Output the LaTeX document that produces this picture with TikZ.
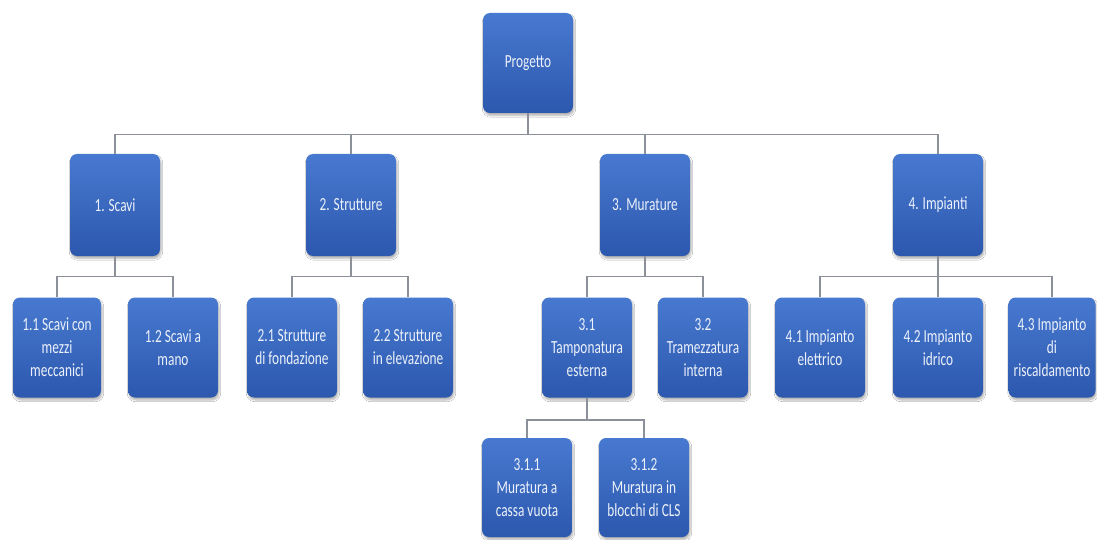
\documentclass[tikz,border=0pt]{standalone}
\usepackage{fontspec}
\newfontfamily\boxfont{Carlito}[FakeStretch=0.72]
\usetikzlibrary{shadows.blur}
\definecolor{boxtop}{RGB}{72,121,208}
\definecolor{boxbot}{RGB}{44,88,174}
\definecolor{boxtext}{RGB}{236,241,250}
\definecolor{connector}{RGB}{140,144,152}
\begin{document}
\begin{tikzpicture}[x=1pt,y=-1pt,
  wbs/.style={rectangle, rounded corners=7pt, top color=boxtop, bottom color=boxbot,
    draw=none, minimum width=90pt, minimum height=101pt, inner sep=0pt,
    align=center, text=boxtext, font=\boxfont\fontsize{18.5}{23}\selectfont,
    blur shadow={shadow blur steps=6, shadow xshift=1pt, shadow yshift=-2.5pt, shadow opacity=30}},
  conn/.style={draw=connector, line width=1.3pt}]
  \fill[white] (0,0) rectangle (1097,540);
  \useasboundingbox (0,0) rectangle (1097,540);

  % bus bars of the three tree levels
  \coordinate (bar1) at (0,134.5);
  \coordinate (bar2) at (0,276.5);
  \coordinate (bar3) at (0,420);

  % root
  \node[wbs, minimum height=100pt] (root) at (528,63) {Progetto};

  % first level
  \node[wbs, minimum height=102pt] (s1) at (115,205) {1. Scavi};
  \node[wbs, minimum height=102pt] (s2) at (351,205) {2. Strutture};
  \node[wbs, minimum height=102pt] (s3) at (645,205) {3. Murature};
  \node[wbs, minimum height=102pt] (s4) at (938,205) {4. Impianti};

  % second level
  \node[wbs, minimum width=88pt, minimum height=100pt] (s11) at (57,347.5) {1.1 Scavi con\\mezzi\\meccanici};
  \node[wbs, minimum height=100pt] (s12) at (173,347.5) {1.2 Scavi a\\mano};
  \node[wbs, minimum height=100pt] (s21) at (292,347.5) {2.1 Strutture\\di fondazione};
  \node[wbs, minimum height=100pt] (s22) at (408,347.5) {2.2 Strutture\\in elevazione};
  \node[wbs, minimum height=100pt] (s31) at (587,347.5) {3.1\\Tamponatura\\esterna};
  \node[wbs, minimum height=100pt] (s32) at (703,347.5) {3.2\\Tramezzatura\\interna};
  \node[wbs, minimum height=100pt] (s41) at (820,347.5) {4.1 Impianto\\elettrico};
  \node[wbs, minimum height=100pt] (s42) at (938,347.5) {4.2 Impianto\\idrico};
  \node[wbs, minimum width=87pt, minimum height=100pt] (s43) at (1052,347.5) {4.3 Impianto\\di\\riscaldamento};

  % third level
  \node[wbs, minimum height=99pt] (s311) at (527,487.5) {3.1.1\\Muratura a\\cassa vuota};
  \node[wbs, minimum height=99pt] (s312) at (644,487.5) {3.1.2\\Muratura in\\blocchi di CLS};

  % elbow connectors from each parent down to its children
  \foreach \c in {s1,s2,s3,s4}
    \draw[conn] (root.south) -- (root.south |- bar1) -| (\c.north);
  \foreach \c in {s11,s12}
    \draw[conn] (s1.south) -- (s1.south |- bar2) -| (\c.north);
  \foreach \c in {s21,s22}
    \draw[conn] (s2.south) -- (s2.south |- bar2) -| (\c.north);
  \foreach \c in {s31,s32}
    \draw[conn] (s3.south) -- (s3.south |- bar2) -| (\c.north);
  \foreach \c in {s41,s42,s43}
    \draw[conn] (s4.south) -- (s4.south |- bar2) -| (\c.north);
  \foreach \c in {s311,s312}
    \draw[conn] (s31.south) -- (s31.south |- bar3) -| (\c.north);
\end{tikzpicture}
\end{document}
